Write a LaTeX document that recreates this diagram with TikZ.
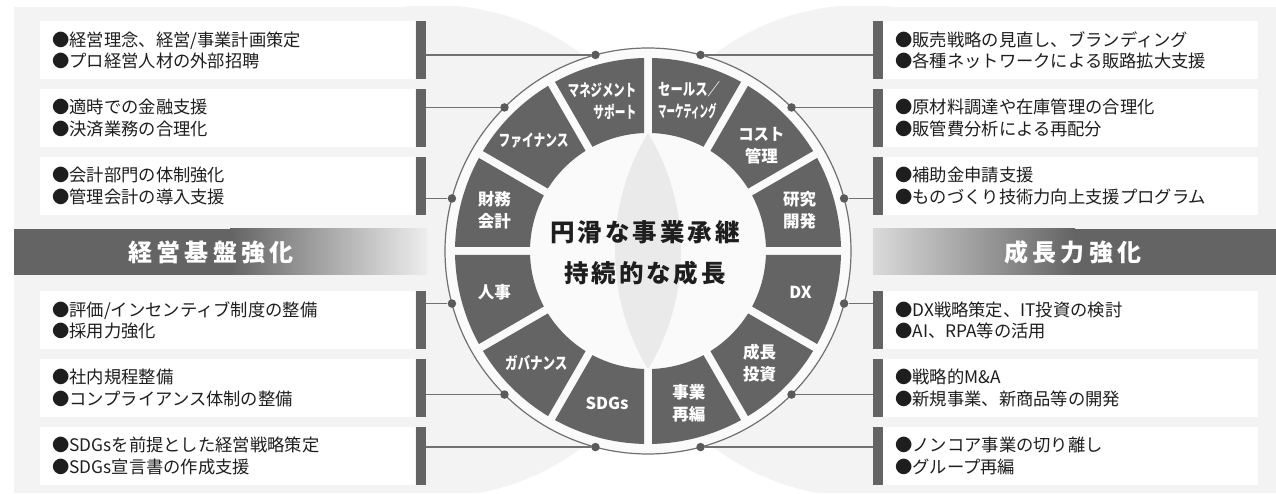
\documentclass[tikz,border=0pt]{standalone}
\usepackage{fontspec}
\setmainfont{Noto Sans CJK JP}
\usepackage{graphicx}
\usetikzlibrary{positioning}

\definecolor{panelgray}{HTML}{F3F3F3}
\definecolor{seggray}{HTML}{646464}
\definecolor{linegray}{HTML}{707070}
\definecolor{lensgray}{HTML}{EAEAEA}
\definecolor{fadegray}{HTML}{EDEDED}
\definecolor{inkblack}{HTML}{1E1E1E}
\newcommand{\narrowtext}[2]{\scalebox{#1}[1]{#2}}

\begin{document}
\begin{tikzpicture}[
  x=1pt, y=1pt,
  box/.style={rectangle, fill=white, minimum width=375pt, minimum height=58pt, text width=351pt, inner xsep=12pt, inner ysep=0pt, align=left, text=inkblack, font=\fontsize{17.3}{21.5}\selectfont},
  bar/.style={rectangle, fill=seggray, minimum width=10pt, minimum height=58pt, inner sep=0pt},
  dot/.style={circle, fill=seggray!90!black, minimum size=8.5pt, inner sep=0pt},
  link/.style={draw=linegray, line width=1.3pt},
  seglabel/.style={text=white, align=center, inner sep=0pt, font=\fontsize{16.5}{22}\selectfont\bfseries},
  bannertext/.style={text=white, font=\fontsize{24}{28}\selectfont\bfseries\addfontfeature{LetterSpace=18}},
  title/.style={text=inkblack, align=center, font=\fontsize{24.5}{41}\selectfont\bfseries\addfontfeature{LetterSpace=12}},
  node distance=9.5pt
]
\useasboundingbox (0,0) rectangle (1276,494);

% Background panels
\begin{scope}
  \clip (0,1) rectangle (1276,487);
  \fill[panelgray] (14,1) rectangle (434,487);
  \fill[panelgray] (434,243) circle[radius=246pt];
  \fill[panelgray] (862,1) rectangle (1276,487);
  \fill[panelgray] (862,243) circle[radius=246pt];
\end{scope}

% Banners
\fill[seggray] (14,219) rectangle (230,265);
\shade[left color=seggray, right color=fadegray] (230,219) rectangle (427,265);
\shade[left color=fadegray!92!black, right color=seggray] (873,219) rectangle (1075,265);
\fill[seggray] (1075,219) rectangle (1276,265);
\node[bannertext] (lbanner) at (211,242) {経営基盤強化};
\node[bannertext] (rbanner) at (1073,242) {成長力強化};

% Left boxes
\node[box, anchor=north west] (lbox1) at (40,473) {●経営理念、経営/事業計画策定\\●プロ経営人材の外部招聘};
\node[box, below=of lbox1] (lbox2) {●適時での金融支援\\●決済業務の合理化};
\node[box, below=of lbox2] (lbox3) {●会計部門の体制強化\\●管理会計の導入支援};
\node[box, anchor=north west] (lbox4) at (40,203) {●評価/インセンティブ制度の整備\\●採用力強化};
\node[box, below=of lbox4] (lbox5) {●社内規程整備\\●コンプライアンス体制の整備};
\node[box, below=of lbox5] (lbox6) {●SDGsを前提とした経営戦略策定\\●SDGs宣言書の作成支援};
\node[bar, right=0pt of lbox1] (lbar1) {};
\node[bar, right=0pt of lbox2] (lbar2) {};
\node[bar, right=0pt of lbox3] (lbar3) {};
\node[bar, right=0pt of lbox4] (lbar4) {};
\node[bar, right=0pt of lbox5] (lbar5) {};
\node[bar, right=0pt of lbox6] (lbar6) {};

% Right boxes
\node[box, anchor=north west] (rbox1) at (883,473) {●販売戦略の見直し、ブランディング\\●各種ネットワークによる販路拡大支援};
\node[box, below=of rbox1] (rbox2) {●原材料調達や在庫管理の合理化\\●販管費分析による再配分};
\node[box, below=of rbox2] (rbox3) {●補助金申請支援\\●ものづくり技術力向上支援プログラム};
\node[box, anchor=north west] (rbox4) at (883,203) {●DX戦略策定、IT投資の検討\\●AI、RPA等の活用};
\node[box, below=of rbox4] (rbox5) {●戦略的M\&A\\●新規事業、新商品等の開発};
\node[box, below=of rbox5] (rbox6) {●ノンコア事業の切り離し\\●グループ再編};
\node[bar, left=0pt of rbox1] (rbar1) {};
\node[bar, left=0pt of rbox2] (rbar2) {};
\node[bar, left=0pt of rbox3] (rbar3) {};
\node[bar, left=0pt of rbox4] (rbar4) {};
\node[bar, left=0pt of rbox5] (rbar5) {};
\node[bar, left=0pt of rbox6] (rbar6) {};

% Wheel
\coordinate (hub) at (648,243);
\begin{scope}[shift={(hub)}]
  \fill[white!55!panelgray] (0,0) circle[radius=203pt];
  \begin{scope}
    \clip (-194.5,0) circle[radius=227.5pt];
    \fill[lensgray] (194.5,0) circle[radius=227.5pt];
  \end{scope}
  \draw[linegray, line width=1.2pt] (0,0) circle[radius=203pt];
  \foreach \a in {0,30,...,330}
    \fill[seggray] ({\a+asin(4/118)}:118pt) -- ({\a+asin(4/193)}:193pt)
      arc[start angle={\a+asin(4/193)}, end angle={\a+30-asin(4/193)}, radius=193pt]
      -- ({\a+30-asin(4/118)}:118pt)
      arc[start angle={\a+30-asin(4/118)}, end angle={\a+asin(4/118)}, radius=118pt] -- cycle;

  % Dots on the ring
  \node[dot] (d105) at (105:203pt) {};
  \node[dot] (d135) at (135:203pt) {};
  \node[dot] (d165) at (165:203pt) {};
  \node[dot] (d195) at (195:203pt) {};
  \node[dot] (d225) at (225:203pt) {};
  \node[dot] (d255) at (255:203pt) {};
  \node[dot] (d75) at (75:203pt) {};
  \node[dot] (d45) at (45:203pt) {};
  \node[dot] (d15) at (15:203pt) {};
  \node[dot] (d345) at (-15:203pt) {};
  \node[dot] (d315) at (-45:203pt) {};
  \node[dot] (d285) at (-75:203pt) {};

  % Segment labels
  \node[seglabel, align=right] (l105) at (107:157pt) {\narrowtext{0.69}{マネジメント}\\\narrowtext{0.65}{サポート}};
  \node[seglabel, align=left] (l75) at (74.7:156pt) {\narrowtext{0.75}{セールス／}\\\narrowtext{0.51}{マーケティング}};
  \node[seglabel] (l45) at (43:155pt) {\narrowtext{0.93}{コスト}\\管理};
  \node[seglabel] (l15) at (15:157pt) {研究\\開発};
  \node[seglabel] (l345) at (-15:158pt) {DX};
  \node[seglabel] (l315) at (-45:158pt) {成長\\投資};
  \node[seglabel] (l285) at (-75:158pt) {事業\\再編};
  \node[seglabel] (l255) at (-105:158pt) {SDGs};
  \node[seglabel] (l225) at (-135:158pt) {\narrowtext{0.76}{ガバナンス}};
  \node[seglabel] (l195) at (195:159pt) {人事};
  \node[seglabel] (l165) at (165:159pt) {財務\\会計};
  \node[seglabel] (l135) at (136:159pt) {\narrowtext{0.71}{ファイナンス}};

  % Title
  \node[title] (title) at (-3,-2) {円滑な事業承継\\持続的な成長};
\end{scope}

% Links
\draw[link] (d105) -- (d105 -| lbar1.east);
\draw[link] (d135) -- (d135 -| lbar2.east);
\draw[link] (d165) -- (d165 -| lbar3.east);
\draw[link] (d195) -- (d195 -| lbar4.east);
\draw[link] (d225) -- (d225 -| lbar5.east);
\draw[link] (d255) -- (d255 -| lbar6.east);
\draw[link] (d75) -- (d75 -| rbar1.west);
\draw[link] (d45) -- (d45 -| rbar2.west);
\draw[link] (d15) -- (d15 -| rbar3.west);
\draw[link] (d345) -- (d345 -| rbar4.west);
\draw[link] (d315) -- (d315 -| rbar5.west);
\draw[link] (d285) -- (d285 -| rbar6.west);
\end{tikzpicture}
\end{document}
